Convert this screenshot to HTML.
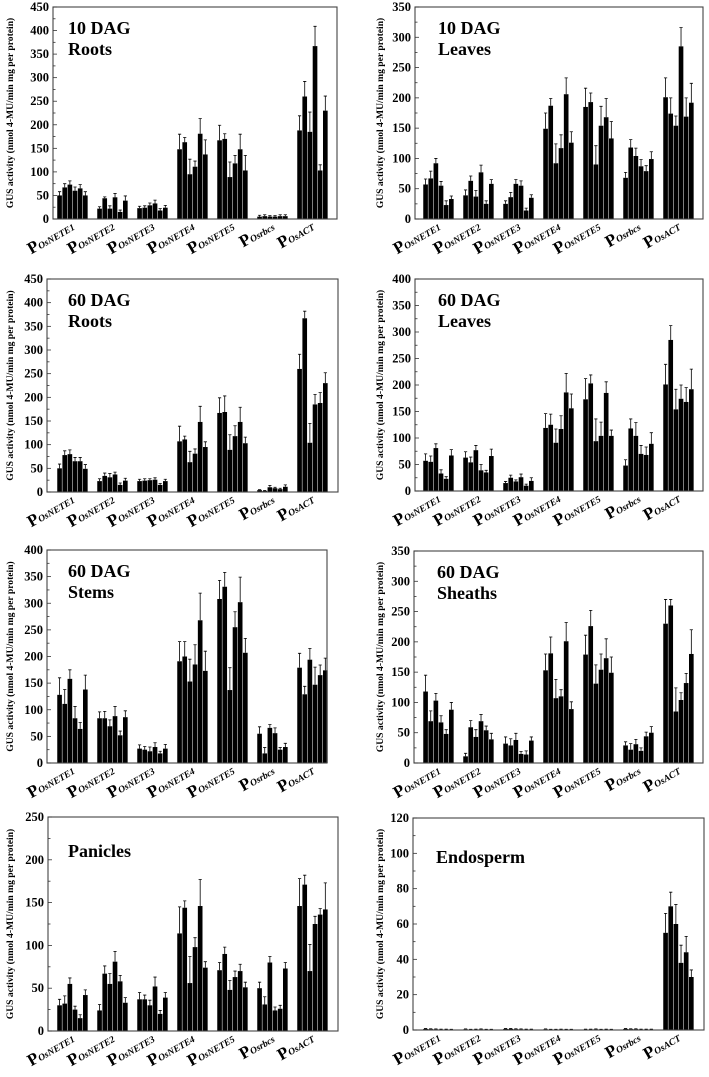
<!DOCTYPE html>
<html><head><meta charset="utf-8"><style>
html,body{margin:0;padding:0;background:#fff;}
svg{display:block;font-family:"Liberation Serif",serif;}
</style></head><body>
<svg id="fig" width="709" height="1077" viewBox="0 0 709 1077" xmlns="http://www.w3.org/2000/svg"></svg>
<script>
const categories = ["NETE1","NETE2","NETE3","NETE4","NETE5","rbcs","ACT"];
const catLabels = ["OsNETE1","OsNETE2","OsNETE3","OsNETE4","OsNETE5","Osrbcs","OsACT"];

const roots10Values = [[50,67,73,60,65,50],[22,44,22,46,15,39],[23,24,29,33,18,24],[148,163,95,111,181,137],[167,170,89,118,148,103],[5,6,5,5,6,6],[188,260,185,367,103,230]];
const roots10Err = [[58,75,81,68,73,58],[26,47,28,54,19,49],[27,28,34,40,22,29],[180,173,127,123,213,168],[199,181,121,135,180,135],[8,9,7,7,9,9],[219,292,227,409,115,261]];
const leaves10Values = [[57,67,92,55,23,33],[39,63,37,77,25,58],[25,36,58,55,14,35],[149,187,92,117,206,126],[185,193,90,154,168,133],[68,118,104,87,79,99],[201,174,154,285,169,192]];
const leaves10Err = [[66,79,100,62,30,38],[48,71,47,89,30,65],[30,44,65,63,18,40],[175,199,124,139,233,144],[216,208,121,186,199,161],[77,131,117,98,88,111],[233,200,170,316,200,224]];
const roots60Values = [[50,78,80,65,65,49],[23,34,31,37,15,24],[23,24,25,26,15,23],[107,111,63,81,148,95],[167,169,89,118,148,103],[4,2,10,8,6,11],[260,367,104,185,188,230]];
const roots60Err = [[59,87,89,73,73,58],[28,40,39,42,19,29],[27,28,28,30,18,27],[139,118,86,91,181,106],[199,203,121,140,179,116],[5,3,14,10,8,15],[291,382,145,206,210,252]];
const leaves60Values = [[57,55,81,33,23,67],[63,54,77,39,35,66],[15,25,18,26,10,19],[119,125,91,117,186,156],[173,203,94,104,185,104],[48,118,104,70,68,89],[201,285,154,174,168,192]];
const leaves60Err = [[70,66,89,40,27,78],[74,64,86,50,39,79],[18,30,21,32,13,25],[146,145,117,142,222,183],[212,219,136,130,206,115],[59,136,129,86,83,110],[239,312,192,200,195,230]];
const stemsValues = [[128,111,158,84,64,138],[84,84,69,88,52,86],[27,25,22,30,18,27],[191,200,153,185,268,173],[308,331,137,255,302,207],[55,18,66,56,25,30],[179,129,194,147,165,174]];
const stemsErr = [[160,138,175,106,76,165],[96,97,81,106,60,98],[34,31,30,38,22,35],[228,228,195,222,319,210],[343,358,179,284,349,234],[68,29,72,66,29,37],[206,144,215,180,184,197]];
const sheathsValues = [[118,69,103,67,48,88],[11,59,43,69,54,39],[32,29,38,15,14,37],[153,181,107,110,201,89],[179,226,131,154,173,149],[29,22,31,20,44,50],[230,260,85,104,132,180]];
const sheathsErr = [[145,86,115,78,55,100],[16,70,55,80,61,49],[43,40,49,19,20,43],[180,208,138,121,232,101],[211,252,162,180,205,175],[35,32,39,25,51,60],[270,270,124,116,148,220]];
const paniclesValues = [[30,32,55,25,15,42],[24,67,55,81,58,33],[37,37,30,52,20,39],[114,144,56,98,146,74],[71,90,48,63,70,51],[50,31,80,24,26,73],[146,171,70,125,136,142]];
const paniclesErr = [[37,41,62,29,19,48],[31,76,67,93,65,39],[45,42,36,63,24,45],[145,152,87,109,177,81],[80,98,59,70,78,57],[57,40,87,28,30,80],[178,182,101,134,143,173]];
const endoValues = [[0.6,0.5,0.4,0.3,0.3,0.2],[0.4,0.2,0.3,0.4,0.2,0.2],[0.6,0.6,0.5,0.4,0.3,0.3],[0.4,0.2,0.2,0.3,0.2,0.2],[0.3,0.3,0.4,0.2,0.3,0.2],[0.6,0.5,0.5,0.3,0.3,0.3],[55,70,60,38,44,30]];
const endoErr = [[0.8,0.7,0.6,0.5,0.5,0.4],[0.6,0.4,0.5,0.6,0.4,0.4],[0.8,0.8,0.7,0.6,0.5,0.5],[0.6,0.4,0.4,0.5,0.4,0.4],[0.5,0.5,0.6,0.4,0.5,0.4],[0.8,0.7,0.7,0.5,0.5,0.5],[66,78,71,48,53,34]];

const panels = [
 {name:"roots-10dag",L:53,R:337,T:7,B:219,max:450,step:50,title:["10 DAG","Roots"],vals:roots10Values,err:roots10Err},
 {name:"leaves-10dag",L:415,R:703,T:7,B:219,max:350,step:50,title:["10 DAG","Leaves"],vals:leaves10Values,err:leaves10Err},
 {name:"roots-60dag",L:47,R:338,T:279,B:492,max:450,step:50,title:["60 DAG","Roots"],vals:roots60Values,err:roots60Err},
 {name:"leaves-60dag",L:415,R:703,T:279,B:491,max:400,step:50,title:["60 DAG","Leaves"],vals:leaves60Values,err:leaves60Err},
 {name:"stems-60dag",L:47,R:327,T:550,B:763,max:400,step:50,title:["60 DAG","Stems"],vals:stemsValues,err:stemsErr},
 {name:"sheaths-60dag",L:414,R:703,T:551,B:763,max:350,step:50,title:["60 DAG","Sheaths"],vals:sheathsValues,err:sheathsErr},
 {name:"panicles",L:48,R:338,T:817,B:1031,max:250,step:50,title:["Panicles"],vals:paniclesValues,err:paniclesErr},
 {name:"endosperm",L:413,R:704,T:818,B:1030,max:120,step:20,title:["Endosperm"],vals:endoValues,err:endoErr}
];

const NS="http://www.w3.org/2000/svg";
const svg=document.getElementById('fig');
function mk(tag,attrs,parent){const e=document.createElementNS(NS,tag);for(const k in attrs)e.setAttribute(k,attrs[k]);(parent||svg).appendChild(e);return e;}

panels.forEach(p=>{
  const g=mk('g',{});
  
  
  const y=v=>p.B-(v/p.max)*(p.B-p.T);
  const isLeft=p.L<200;
  const gx0=isLeft?57:423;
  const pitch=40;
  const bw=5.15;
  p.vals.forEach((grp,gi)=>{
    grp.forEach((v,bi)=>{
      const x=gx0+gi*pitch+bi*bw;
      const r=mk('rect',{x:x+0.25,y:y(v),width:bw-0.5,height:p.B-y(v),fill:'#000'},g);
      
      
      const e=p.err[gi][bi];
      const cx=x+bw/2;
      const eb=mk('path',{d:`M${cx} ${y(v)}V${y(e)}M${cx-1.6} ${y(e)}H${cx+1.6}`,stroke:'#000','stroke-width':0.8,fill:'none'},g);
      
      
    });
    const cx=gx0+gi*pitch+3*bw+3;
    const lg=mk('g',{transform:`translate(${cx},${p.B+10}) rotate(-30)`},g);
    const t=mk('text',{x:0,y:0,'text-anchor':'end','font-weight':'bold'},lg);
    
    
    const t1=mk('tspan',{'font-size':17},t); t1.textContent='P';
    const t2=mk('tspan',{'font-size':9.5,'font-style':'italic'},t); t2.textContent=catLabels[gi];
  });
  const fr=mk('rect',{x:p.L,y:p.T,width:p.R-p.L,height:p.B-p.T,fill:'none',stroke:'#444','stroke-width':1.1},g);
  
  
  for(let v=0;v<=p.max+1e-9;v+=p.step/2){
    const major=Math.abs((v/p.step)-Math.round(v/p.step))<1e-6;
    mk('line',{x1:p.L,x2:p.L+(major?4:2.5),y1:y(v),y2:y(v),stroke:'#333','stroke-width':0.8},g);
    if(major){
      const tl=mk('text',{x:p.L-4,y:y(v)+4,'text-anchor':'end','font-size':12.5,'font-weight':'bold'},g);
      
      
      tl.textContent=String(Math.round(v));
    }
  }
  const yt=isLeft?13:383;
  const ytt=mk('text',{x:0,y:0,'text-anchor':'middle','font-size':9.6,'font-weight':'bold',transform:`translate(${yt},${(p.T+p.B)/2}) rotate(-90)`},g);
  
  
  ytt.textContent='GUS activity (nmol 4-MU/min mg per protein)';
  p.title.forEach((s,i)=>{
    const tt=mk('text',{x:isLeft?68:(p.L+23),y:p.T+(p.title.length===1?(p.name==='panicles'?40:45):27)+i*21,'font-size':18,'font-weight':'bold'},g);
    
    
    tt.textContent=s;
  });
});
</script>
</body></html>
